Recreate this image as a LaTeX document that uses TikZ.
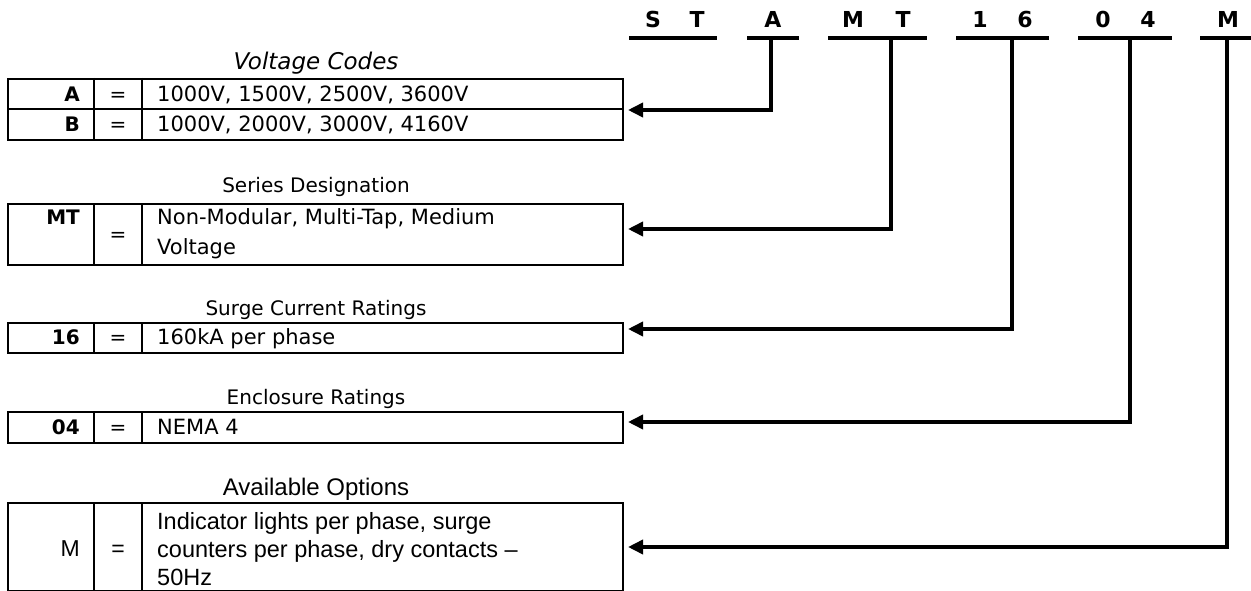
\documentclass[tikz,border=0pt]{standalone}
\usepackage{fontspec}
\setmainfont{DejaVu Sans}
\newfontfamily\arialf{Liberation Sans}
\usetikzlibrary{arrows.meta}
\begin{document}
\begin{tikzpicture}[x=1pt,y=-1pt,
  tbl/.style={draw, line width=2pt, inner sep=0pt, anchor=north west, minimum width=615pt},
  tline/.style={line width=2pt},
  codech/.style={font=\fontsize{22}{26}\selectfont\bfseries, anchor=base, inner sep=0pt},
  uline/.style={line width=3.8pt},
  conn/.style={line width=3.6pt, -{Triangle[length=15pt,width=14pt]}},
  ttl/.style={anchor=base, inner sep=0pt, font=\fontsize{20}{24}\selectfont},
  ttla/.style={anchor=base, inner sep=0pt, font=\arialf\fontsize{24}{28}\selectfont},
  key/.style={anchor=base east, inner sep=0pt, font=\fontsize{20}{24}\selectfont\bfseries},
  eq/.style={anchor=base, inner sep=0pt, font=\fontsize{20}{24}\selectfont},
  desc/.style={anchor=base west, inner sep=0pt, font=\fontsize{21}{24}\selectfont},
  keya/.style={anchor=base east, inner sep=0pt, font=\arialf\fontsize{23}{26}\selectfont},
  eqa/.style={anchor=base, inner sep=0pt, font=\arialf\fontsize{23}{26}\selectfont},
  desca/.style={anchor=base west, inner sep=0pt, font=\arialf\fontsize{23.5}{26}\selectfont},
]
\useasboundingbox (0,0) rectangle (1251,591);

% ---- code letters on top
\node[codech] (cS)  at (653,28) {S};
\node[codech] (cT)  at (697,28) {T};
\node[codech] (cA)  at (773,28) {A};
\node[codech] (cM)  at (853,28) {M};
\node[codech] (cT2) at (903,28) {T};
\node[codech] (c1)  at (980,28) {1};
\node[codech] (c6)  at (1025,28) {6};
\node[codech] (c0)  at (1103,28) {0};
\node[codech] (c4)  at (1148,28) {4};
\node[codech] (cM2) at (1228,28) {M};

\coordinate (lST1) at (629,38); \coordinate (lST2) at (717,38);
\coordinate (lA1) at (747,38);  \coordinate (lA2) at (799,38);
\coordinate (lMT1) at (828,38); \coordinate (lMT2) at (927,38);
\coordinate (l161) at (956,38); \coordinate (l162) at (1049,38);
\coordinate (l041) at (1078,38); \coordinate (l042) at (1172,38);
\coordinate (lM1) at (1200,38); \coordinate (lM2) at (1251,38);
\draw[uline] (lST1) -- (lST2);
\draw[uline] (lA1) -- (lA2);
\draw[uline] (lMT1) -- (lMT2);
\draw[uline] (l161) -- (l162);
\draw[uline] (l041) -- (l042);
\draw[uline] (lM1) -- (lM2);

\coordinate (uA) at (771,38);
\coordinate (uMT) at (891,38);
\coordinate (u16) at (1012,38);
\coordinate (u04) at (1130,38);
\coordinate (uM) at (1227,38);

% ---- table 1
\node[ttl, font=\itshape\fontsize{23}{27}\selectfont] (ttl1) at (316,70) {Voltage Codes};
\node[tbl, minimum height=61pt] (t1) at (7,78) {};
\draw[tline] (94,78) -- (94,139);
\draw[tline] (142,78) -- (142,139);
\draw[tline] (7,109) -- (622,109);
\node[key] (k1a) at (80,102) {A};
\node[eq] (e1a) at (118,102) {=};
\node[desc] (d1a) at (157,102) {1000V, 1500V, 2500V, 3600V};
\node[key] (k1b) at (80,132) {B};
\node[eq] (e1b) at (118,132) {=};
\node[desc] (d1b) at (157,132) {1000V, 2000V, 3000V, 4160V};
\coordinate (a1) at (628,110);
\draw[conn] (uA) |- (a1);

% ---- table 2
\node[ttl] (ttl2) at (316,193) {Series Designation};
\node[tbl, minimum height=61pt] (t2) at (7,203) {};
\draw[tline] (94,203) -- (94,264);
\draw[tline] (142,203) -- (142,264);
\node[key] (k2) at (80,224) {MT};
\node[eq] (e2) at (118,241) {=};
\node[desc] (d2a) at (157,224) {Non-Modular, Multi-Tap, Medium};
\node[desc] (d2b) at (157,254) {Voltage};
\coordinate (a2) at (628,229);
\draw[conn] (uMT) |- (a2);

% ---- table 3
\node[ttl] (ttl3) at (316,315) {Surge Current Ratings};
\node[tbl, minimum height=30pt] (t3) at (7,322) {};
\draw[tline] (94,322) -- (94,352);
\draw[tline] (142,322) -- (142,352);
\node[key] (k3) at (80,344) {16};
\node[eq] (e3) at (118,344) {=};
\node[desc] (d3) at (157,344) {160kA per phase};
\coordinate (a3) at (628,329);
\draw[conn] (u16) |- (a3);

% ---- table 4
\node[ttl] (ttl4) at (316,404) {Enclosure Ratings};
\node[tbl, minimum height=31pt] (t4) at (7,411) {};
\draw[tline] (94,411) -- (94,442);
\draw[tline] (142,411) -- (142,442);
\node[key] (k4) at (80,434) {04};
\node[eq] (e4) at (118,434) {=};
\node[desc] (d4) at (157,434) {NEMA 4};
\coordinate (a4) at (628,422);
\draw[conn] (u04) |- (a4);

% ---- table 5
\node[ttla] (ttl5) at (316,495) {Available Options};
\node[tbl, minimum height=88pt] (t5) at (7,502) {};
\draw[tline] (94,502) -- (94,590);
\draw[tline] (142,502) -- (142,590);
\node[keya] (k5) at (80,556) {M};
\node[eqa] (e5) at (118,556) {=};
\node[desca] (d5a) at (157,529) {Indicator lights per phase, surge};
\node[desca] (d5b) at (157,557) {counters per phase, dry contacts –};
\node[desca] (d5c) at (157,585) {50Hz};
\coordinate (a5) at (628,547);
\draw[conn] (uM) |- (a5);
\end{tikzpicture}
\end{document}
